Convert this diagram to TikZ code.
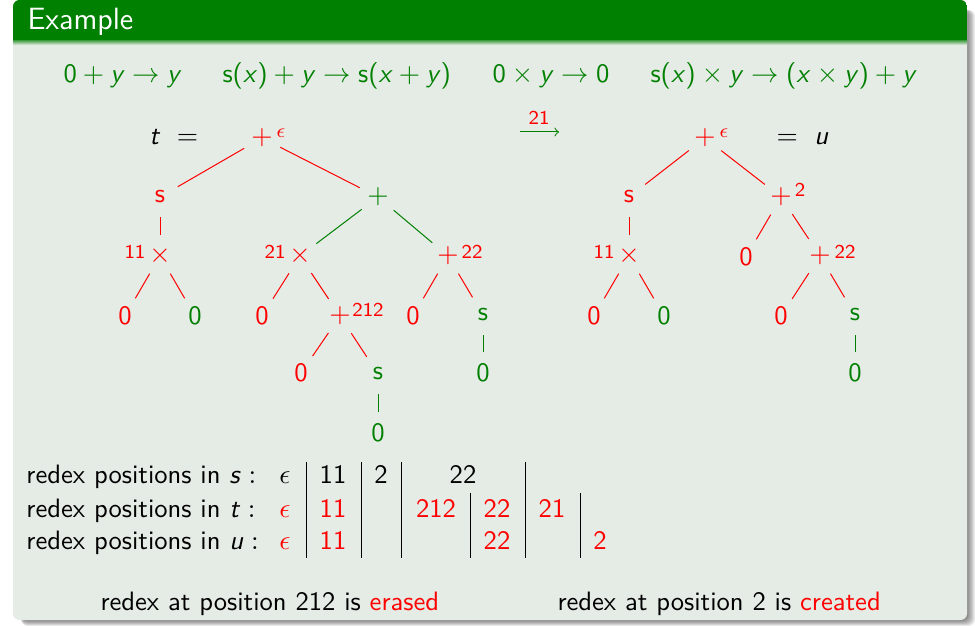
\documentclass[tikz,border=0pt]{standalone}
\usepackage{amsmath}
\definecolor{hdr}{RGB}{0,128,0}
\definecolor{bodybg}{RGB}{229,235,229}
\colorlet{grn}{green!50!black}
\newcommand\bodyfont{\fontsize{10.64}{12.8}\selectfont\sffamily}
\newcommand\supfont{\fontsize{7.85}{9.4}\selectfont\sffamily}
\newcommand\hdrfont{\fontsize{12.3}{14.8}\selectfont\sffamily}
\newcommand\V[1]{\textsf{\itshape #1\/}}
\tikzset{
  tn/.style={circle, inner sep=0pt, minimum size=16pt, font=\bodyfont},
  rn/.style={tn, text=red},
  gn/.style={tn, text=grn},
  supl/.style={font=\supfont, inner sep=0pt, text=red},
  redge/.style={draw=red, line width=0.4pt},
  gedge/.style={draw=grn, line width=0.4pt},
  txt/.style={font=\bodyfont, inner sep=0pt, anchor=base},
  txtw/.style={txt, anchor=base west},
  bar/.style={draw=black, line width=0.4pt},
}
\begin{document}
\begin{tikzpicture}[x=0.4pt,y=-0.4pt]
\useasboundingbox (0,0) rectangle (975,626);

% block shadow
\foreach \d in {1,...,8}
  \fill[black, opacity=0.07, rounded corners=2.6pt] (21,10) rectangle (967+\d,620+0.75*\d);
% block body and title bar
\fill[bodybg, rounded corners=2.6pt] (13,0) rectangle (967,620);
\begin{scope}
  \clip[rounded corners=2.6pt] (13,0) rectangle (967,620);
  \fill[hdr] (13,0) rectangle (967,41);
  \shade[top color=hdr!60!bodybg, bottom color=bodybg] (13,41) rectangle (967,45);
\end{scope}
\node[txtw, text=white, font=\hdrfont] (title) at (27,30) {Example};

% rewrite rules
\begin{scope}[every node/.style={txtw, text=grn}]
  \node (r1) at (63,83) {$\textsf{0} + \V{y} \rightarrow \V{y}$};
  \node (r2) at (222,83) {$\textsf{s(}\V{x}\textsf{)} + \V{y} \rightarrow \textsf{s(}\V{x} + \V{y}\textsf{)}$};
  \node (r3) at (492,83) {$\textsf{0} \times \V{y} \rightarrow \textsf{0}$};
  \node (r4) at (650,83) {$\textsf{s(}\V{x}\textsf{)} \times \V{y} \rightarrow \textsf{(}\V{x} \times \V{y}\textsf{)} + \V{y}$};
\end{scope}

% term t
\node[txtw] (teq) at (149,145) {$\V{t}\ =$};
\node[rn] (tr) at (262,138) {$+$};
\node[supl] (trl) at (281,133) {$\epsilon$};
\node[rn] (ts) at (160,197) {s};
\node[gn] (tp) at (378,197) {$+$};
\node[rn] (tm1) at (160,256) {$\times$};
\node[supl] (tm1l) at (135,252) {11};
\node[rn] (tm2) at (300,256) {$\times$};
\node[supl] (tm2l) at (275,252) {21};
\node[rn] (tp22) at (448,256) {$+$};
\node[supl] (tp22l) at (472,252) {22};
\node[rn] (ta) at (125,316) {0};
\node[gn] (tb) at (195,316) {0};
\node[rn] (tc) at (262,316) {0};
\node[rn] (tp212) at (340,316) {$+$};
\node[supl] (tp212l) at (368,310) {212};
\node[rn] (td) at (413,316) {0};
\node[gn] (te) at (483,315) {s};
\node[rn] (tf) at (301,373) {0};
\node[gn] (tg) at (378,374) {s};
\node[gn] (th) at (483,373) {0};
\node[gn] (ti) at (378,433) {0};

\draw[redge] (tr) -- (ts);
\draw[redge] (tr) -- (tp);
\draw[redge] (ts) -- (tm1);
\draw[gedge] (tp) -- (tm2);
\draw[gedge] (tp) -- (tp22);
\draw[redge] (tm1) -- (ta);
\draw[redge] (tm1) -- (tb);
\draw[redge] (tm2) -- (tc);
\draw[redge] (tm2) -- (tp212);
\draw[redge] (tp22) -- (td);
\draw[redge] (tp22) -- (te);
\draw[redge] (tp212) -- (tf);
\draw[redge] (tp212) -- (tg);
\draw[gedge] (tg) -- (ti);
\draw[gedge] (te) -- (th);

% rewrite step at position 21
\coordinate (stepA) at (520,132);
\coordinate (stepB) at (559,132);
\draw[grn, line width=0.4pt, -to] (stepA) -- (stepB);
\node[supl] (stepl) at (539,118) {21};

% term u
\node[rn] (ur) at (705,138) {$+$};
\node[supl] (url) at (724,133) {$\epsilon$};
\node[txtw] (ueq) at (776,145) {$=\ \V{u}$};
\node[rn] (us) at (629,197) {s};
\node[rn] (up) at (781,197) {$+$};
\node[supl] (upl) at (800,190) {2};
\node[rn] (um) at (629,256) {$\times$};
\node[supl] (uml) at (604,252) {11};
\node[rn] (u0) at (746,257) {0};
\node[rn] (up22) at (820,256) {$+$};
\node[supl] (up22l) at (845,252) {22};
\node[rn] (ua) at (594,316) {0};
\node[gn] (ub) at (664,316) {0};
\node[rn] (uc) at (781,316) {0};
\node[gn] (ud) at (855,315) {s};
\node[gn] (ue) at (855,373) {0};

\draw[redge] (ur) -- (us);
\draw[redge] (ur) -- (up);
\draw[redge] (us) -- (um);
\draw[redge] (um) -- (ua);
\draw[redge] (um) -- (ub);
\draw[redge] (up) -- (u0);
\draw[redge] (up) -- (up22);
\draw[redge] (up22) -- (uc);
\draw[redge] (up22) -- (ud);
\draw[gedge] (ud) -- (ue);

% redex positions table
\node[txtw] (ls) at (26,483) {redex positions in $\V{s}:$};
\node[txtw] (lt) at (26,517) {redex positions in $\V{t}:$};
\node[txtw] (lu) at (26,549) {redex positions in $\V{u}:$};

\node[txt] (s0) at (285,483) {$\epsilon$};
\node[txt] (s11) at (333,483) {11};
\node[txt] (s2) at (381,483) {2};
\node[txt] (s22) at (463,483) {22};

\begin{scope}[every node/.style={txt, text=red}]
  \node (t0) at (285,517) {$\epsilon$};
  \node (t11) at (333,517) {11};
  \node (t212) at (436,517) {212};
  \node (t22) at (497,517) {22};
  \node (t21) at (552,517) {21};
  \node (u0c) at (285,549) {$\epsilon$};
  \node (u11) at (333,549) {11};
  \node (u22) at (497,549) {22};
  \node (u2) at (600,549) {2};
\end{scope}

\foreach \x in {306,361,401,525} \draw[bar] (\x,462) -- (\x,558);
\foreach \x in {470,580} \draw[bar] (\x,493) -- (\x,558);

% conclusions
\node[txtw] (erased) at (100,611) {redex at position 212 is \textcolor{red}{erased}};
\node[txtw] (created) at (557,611) {redex at position 2 is \textcolor{red}{created}};
\end{tikzpicture}
\end{document}
